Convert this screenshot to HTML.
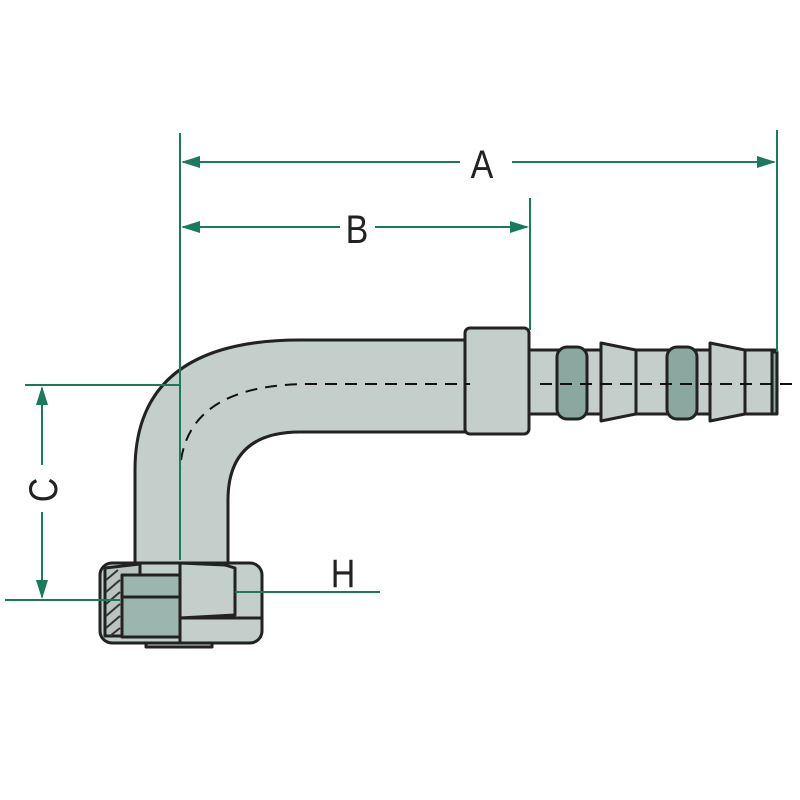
<!DOCTYPE html>
<html><head><style>body{margin:0;background:#fff}svg{display:block}</style></head><body>
<svg width="800" height="800" viewBox="0 0 800 800" xmlns="http://www.w3.org/2000/svg">
<g stroke="#222" stroke-width="3" fill="#c4cecb" stroke-linejoin="round">
<path d="M135,570 L135,470 Q135,340 300,340 L470,340 L470,432 L300,432 Q228,432 228,500 L228,570 Z"/>
<rect x="527" y="350" width="248" height="64"/>
<rect x="557" y="347" width="30" height="72" rx="10" fill="#8aa8a0"/>
<path d="M601,343 L636,350 L636,414 L601,421 Z"/>
<rect x="667" y="347" width="30" height="72" rx="10" fill="#8aa8a0"/>
<path d="M710,343 L745,350 L745,414 L710,421 Z"/>
<rect x="772" y="352" width="5" height="62" fill="#8aa8a0"/>
<rect x="465" y="328" width="64" height="106" rx="5"/>
<rect x="146" y="635" width="66" height="12"/>
<rect x="100" y="563" width="162" height="80" rx="12"/>
<path d="M105,568 L140,564 L140,636 L105,636 Z" fill="#b9c4c1"/>
<rect x="122" y="575" width="58" height="22" fill="#9cb5ae"/>
<rect x="122" y="597" width="58" height="40" fill="#9cb5ae"/>
<path d="M180,563 L225,565 L235,568 L235,615 L180,618 Z"/>
<line x1="180" y1="563" x2="180" y2="643"/>
<line x1="180" y1="618" x2="262" y2="618"/>
</g>
<g stroke="#333" stroke-width="2">
<line x1="106" y1="580" x2="118" y2="570"/><line x1="106" y1="592" x2="120" y2="580"/>
<line x1="106" y1="604" x2="120" y2="592"/><line x1="106" y1="616" x2="120" y2="604"/>
<line x1="106" y1="628" x2="120" y2="616"/><line x1="110" y1="636" x2="120" y2="628"/>
</g>
<g stroke="#111" stroke-width="2" fill="none" stroke-dasharray="12,8">
<path d="M180,560 L180,470 Q185,384 310,384 L470,384"/>
<line x1="540" y1="384" x2="795" y2="384"/>
</g>
<g stroke="#1a7a5e" stroke-width="2" fill="none">
<line x1="180" y1="133" x2="180" y2="560"/>
<line x1="530" y1="198" x2="530" y2="330"/>
<line x1="777" y1="130" x2="777" y2="352"/>
<line x1="183" y1="162" x2="460" y2="162"/><line x1="512" y1="162" x2="774" y2="162"/>
<line x1="183" y1="227" x2="340" y2="227"/><line x1="375" y1="227" x2="527" y2="227"/>
<line x1="25" y1="385" x2="180" y2="385"/>
<line x1="5" y1="600" x2="120" y2="600"/>
<line x1="42" y1="388" x2="42" y2="465"/><line x1="42" y1="512" x2="42" y2="597"/>
<line x1="235" y1="592" x2="380" y2="592"/>
</g>
<g fill="#1a7a5e">
<path d="M181,162 L200,156 L200,168 Z"/><path d="M776,162 L757,156 L757,168 Z"/>
<path d="M181,227 L200,221 L200,233 Z"/><path d="M529,227 L510,221 L510,233 Z"/>
<path d="M42,386 L36,405 L48,405 Z"/><path d="M42,599 L36,580 L48,580 Z"/>
</g>
<g font-family="Liberation Sans, sans-serif" font-size="40" fill="#222" text-anchor="middle">
<text transform="translate(482,178) scale(0.85,1)">A</text>
<text transform="translate(357,243) scale(0.85,1)">B</text>
<text transform="translate(343,587) scale(0.85,1)">H</text>
<text transform="translate(57,490) rotate(-90) scale(0.85,1)">C</text>
</g>
</svg>
</body></html>
